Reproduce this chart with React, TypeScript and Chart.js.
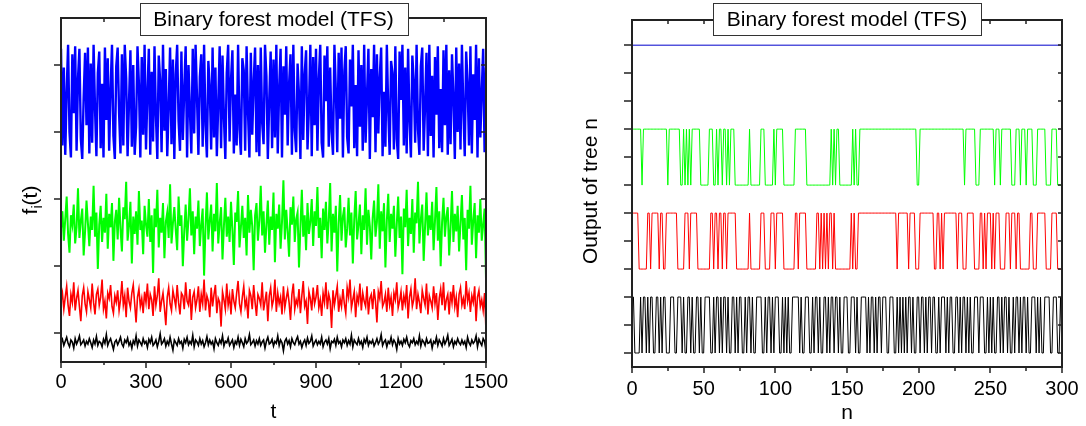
import React, { useEffect, useRef } from "react";
import { Chart, registerables } from "chart.js";
Chart.register(...registerables);

const FONT = '"Liberation Sans", Arial, Helvetica, sans-serif';
const TITLE = "Binary forest model (TFS)";

// ---------- Left panel: f_i(t), sampled every 5 time steps (t = 0..1500) ----------
const leftMajorX = [0, 300, 600, 900, 1200, 1500];
const leftMinorX = [150, 450, 750, 1050, 1350];
const leftYTicks = [50, 100, 150, 200, 250];

const blueF = [
  262,190,248,183,230,265,200,181,258,214,264,186,240,262,195,180,226,259,205,263,
  184,251,192,265,218,182,244,260,188,236,181,263,209,255,186,232,265,197,180,249,
  263,214,184,258,190,265,240,182,222,261,189,250,183,204,264,236,181,256,198,265,
  187,229,262,183,245,193,264,212,180,257,238,185,265,201,247,182,219,263,191,254,
  180,243,265,208,186,260,194,232,264,181,250,216,184,262,199,265,226,183,241,258,
  189,265,205,181,253,234,187,263,196,248,182,221,264,188,257,211,180,244,265,193,
  239,261,184,228,190,265,202,183,255,246,186,264,215,181,259,198,237,263,185,250,
  182,263,207,191,265,242,180,224,260,188,254,196,265,184,233,262,181,249,213,264,
  190,236,258,183,265,201,185,251,228,180,264,194,243,261,187,217,265,182,256,205,
  262,186,240,265,192,181,257,223,264,189,248,200,183,265,231,185,259,210,263,181,
  245,264,196,184,254,219,265,188,235,182,261,204,250,186,265,192,227,262,180,247,
  211,265,185,258,199,241,263,182,230,189,265,216,183,253,244,187,264,195,180,260,
  224,265,190,248,184,262,208,181,257,238,192,265,202,183,249,263,186,220,259,182,
  265,197,242,181,256,213,264,188,232,185,261,205,265,183,246,191,258,226,180,263,
  200,251,187,265,218,182,260,236,190,264,184,243,209,265,181,255,196,230,262,185,
  248,
];
const greenF = [
  128,141,119,135,152,124,110,138,131,146,117,129,158,121,134,143,108,126,149,132,
  115,137,127,160,122,140,98,131,145,118,136,125,154,113,139,129,147,104,133,142,
  120,151,128,111,144,135,163,119,130,148,102,137,124,141,116,156,127,134,109,145,
  131,122,150,118,138,95,143,129,157,114,136,125,147,106,133,140,121,161,117,132,
  144,127,112,152,130,138,100,126,146,119,135,158,123,141,109,137,128,149,115,131,
  143,93,129,155,120,134,146,111,139,126,162,117,132,144,105,130,151,122,137,118,
  148,127,101,140,133,156,114,129,145,121,136,108,153,125,142,130,97,138,147,119,
  134,160,123,141,110,131,149,116,137,127,155,103,139,128,146,113,133,164,120,142,
  126,107,144,131,152,118,135,140,99,129,157,122,138,112,147,124,133,150,115,141,
  130,159,121,136,106,143,127,148,117,134,162,111,139,125,145,96,132,153,119,137,
  144,114,128,151,123,140,102,135,156,120,131,146,109,138,127,158,116,142,130,105,
  136,149,122,133,161,113,141,126,147,99,134,154,118,139,128,145,107,131,152,121,
  137,94,143,129,157,115,136,124,150,110,140,132,163,117,135,146,104,130,155,123,
  138,127,148,112,134,159,119,141,100,133,151,122,137,144,108,129,156,118,139,126,
  145,111,132,153,120,136,97,142,128,160,116,134,147,106,138,125,150,119,131,143,
  91,
];
const redF = [
  74,80,68,77,85,71,63,79,73,88,67,76,82,70,59,78,84,72,66,81,
  75,69,87,73,64,79,83,71,77,90,68,74,61,80,76,86,70,65,78,73,
  82,67,75,89,71,78,62,84,74,69,80,86,72,58,77,83,70,76,65,81,
  73,87,68,79,75,63,85,71,78,91,66,74,80,69,56,77,84,72,67,82,
  76,70,86,73,64,80,78,68,88,74,71,83,60,77,81,69,75,85,66,79,
  72,90,67,78,74,62,84,70,79,86,65,76,73,55,81,75,68,87,71,78,
  64,83,74,69,80,89,72,66,77,85,70,75,61,82,78,68,86,73,63,79,
  76,71,88,67,74,81,59,78,84,70,75,90,66,80,72,77,64,85,69,76,
  82,73,60,79,87,68,75,71,83,65,78,89,70,74,57,81,76,67,84,72,
  77,86,69,75,63,80,73,88,68,79,74,54,82,71,78,85,66,76,70,83,
  72,65,84,77,90,69,75,81,62,78,73,87,67,80,74,70,85,64,76,79,
  68,83,74,58,81,76,89,70,73,79,66,84,71,77,63,80,75,88,69,74,
  81,67,78,72,86,61,77,83,70,75,91,68,79,73,65,82,76,71,87,64,
  78,74,69,85,72,80,60,76,83,71,88,67,75,79,64,81,73,86,70,77,
  62,79,84,71,76,68,89,74,80,66,78,73,85,59,77,82,70,75,67,80,
  52,
];
const blackF = [
  43,45.5,41,44,47,42.5,40,45,43.5,39,46,42,44.5,48,41.5,43,45,40.5,44,42,
  46,43,39.5,45,42,47.5,41,44,43,40,45.5,42.5,49,41,44,46,42,38,43.5,45,
  41.5,44,47,42,40,45,43,46.5,41,43.5,39,44.5,42,48,40.5,45,43,41,46,42.5,
  44,39.5,45.5,43,47,41,42.5,45,40,44,49.5,42,43.5,46,40.5,44,41.5,47,42,37.5,
  45,43,41,46,42.5,44,39,45.5,43,47,41.5,44,42,48.5,40,45,43.5,41,46,42,
  44.5,40,43,47.5,41.5,45,42,44,38.5,46,43,41,45,42.5,48,40.5,44,43,46.5,41,
  43,45,39.5,44,42,47,41,45.5,43,40,46,42.5,44,49,41.5,43,45,40.5,44.5,42,
  46,41,43.5,45,39,44,47,42,43,45.5,40.5,44,42.5,48,41,45,43,37,44,46,
  42,44.5,40,46,43,41.5,45,47.5,42,44,39.5,43,45,41,46.5,42.5,44,48,40.5,43,
  45,41.5,44,42,47,40,43.5,45,42,46,38.5,44,43,45.5,41,47,42.5,44,40,45,
  43,46,41,44.5,42,48.5,40,45,43,41.5,46,42,44,39.5,45.5,43,47,41,44,42.5,
  45,40.5,43,46,42,44,49,41,43.5,45,40,44,42.5,47,41.5,45,43,38,46,42,
  44,41,45.5,43,47,42,40,44.5,43,46,41.5,44,42,48,40.5,45,43.5,41,46,42.5,
  43,45,39,44,42.5,47,41,45,43,40.5,46,42,44.5,48.5,41,43,45.5,40,44,42,
  46,43,41.5,45,42,44,39.5,47,43,41,45,42.5,44,48,40,45.5,43,41,46,44,
  37,
];
const T_STEP = 5;

// ---------- Right panel: output of tree n (n = 0..300), binary ----------
const rightMajorX = [0, 50, 100, 150, 200, 250, 300];
const rightMinorX = [25, 75, 125, 175, 225, 275];
const rightYTicks = [0, 1, 2, 3, 4, 5, 6, 7, 8, 9, 10, 11];

const blueLevel = 11;
const greenLow = 6, greenHigh = 8;
const redLow = 3, redHigh = 5;
const blackLow = 0, blackHigh = 2;

const greenBits =
  "1111111011 1111111111 1111101111 1111001010 1011111100 0000111001 0110110101 1100000000 0010000000 1110000001 " +
  "0111110000 0000111111 1100000000 0000000001 0101100000 0000101001 1111111111 1111111111 1111111111 1111111110 " +
  "0111111111 1111111111 1111111111 1101111111 0001111111 1110111011 1111100011 1011101111 0001111110 0001111000 0";
const redBits =
  "1111100000 0110111110 1100111111 1100000111 0111110000 0000011011 0110110111 1110000000 0010000000 1110000111 " +
  "0111110000 0000110111 1100000001 1010101011 0100000000 0001010011 1111111111 1111111111 1111101111 1110111100 " +
  "0111111111 1001101011 1111111011 1000111110 0001101011 1010111000 0111011101 1000000011 0001111110 0001111000 0";
const blackBits =
  "1100001011 0101100110 1011000111 0011101001 1010011010 0111100101 1010110100 1101011001 0110100111 1001011010 " +
  "1110010101 0011111010 0111001011 0100110101 1011010011 1001110100 1111010110 1011011100 1110010101 0101101001 " +
  "1011010110 1100101110 1011001101 0110101001 1101110010 1010011010 1101001011 0101101001 1101010011 1100111001 0";

const parseBits = (s: string) => s.replace(/\s/g, "").split("").map(Number);

type FrameCfg = {
  id: string;
  majorX: number[];
  minorX: number[];
  yTicks: number[];
  botMajor: number;
  botMinor: number;
  topMajor: number;
  topMinor: number;
  yOut: number;
  yIn: number;
  xTitle: string;
  xTitleY: number;
  yTitleParts: { text: string; size: number; dy: number }[];
  yTitleX: number;
  yTitleY: number;
};

function framePlugin(cfg: FrameCfg) {
  return {
    id: cfg.id,
    afterDraw(chart: any) {
      const { ctx, chartArea: a, scales } = chart;
      const xs = scales.x;
      const ys = scales.y;
      ctx.save();
      ctx.strokeStyle = "#222";
      ctx.lineWidth = 1.5;
      ctx.beginPath();
      for (const v of cfg.majorX) {
        const px = Math.round(xs.getPixelForValue(v));
        ctx.moveTo(px, a.bottom);
        ctx.lineTo(px, a.bottom + cfg.botMajor);
        ctx.moveTo(px, a.top);
        ctx.lineTo(px, a.top + cfg.topMajor);
      }
      for (const v of cfg.minorX) {
        const px = Math.round(xs.getPixelForValue(v));
        ctx.moveTo(px, a.bottom);
        ctx.lineTo(px, a.bottom + cfg.botMinor);
        ctx.moveTo(px, a.top);
        ctx.lineTo(px, a.top + cfg.topMinor);
      }
      for (const v of cfg.yTicks) {
        const py = Math.round(ys.getPixelForValue(v));
        ctx.moveTo(a.left, py);
        ctx.lineTo(a.left - cfg.yOut, py);
        ctx.moveTo(a.right, py);
        ctx.lineTo(a.right - cfg.yIn, py);
      }
      ctx.stroke();
      ctx.lineWidth = 2;
      ctx.strokeRect(a.left, a.top, a.right - a.left, a.bottom - a.top);

      // title box
      ctx.font = `21px ${FONT}`;
      const tw = ctx.measureText(TITLE).width;
      const cx = (a.left + a.right) / 2;
      const bw = Math.round(tw + 28);
      const bh = 32;
      const bx = Math.round(cx - bw / 2);
      const by = 3;
      ctx.fillStyle = "#fff";
      ctx.fillRect(bx, by, bw, bh);
      ctx.lineWidth = 1;
      ctx.strokeStyle = "#333";
      ctx.strokeRect(bx + 0.5, by + 0.5, bw, bh);
      ctx.fillStyle = "#000";
      ctx.textAlign = "center";
      ctx.textBaseline = "middle";
      ctx.fillText(TITLE, cx, by + bh / 2 + 1);

      // x title
      ctx.fillText(cfg.xTitle, cx, cfg.xTitleY);

      // y title (rotated)
      ctx.translate(cfg.yTitleX, cfg.yTitleY);
      ctx.rotate(-Math.PI / 2);
      ctx.textAlign = "left";
      ctx.textBaseline = "alphabetic";
      let total = 0;
      for (const p of cfg.yTitleParts) {
        ctx.font = `${p.size}px ${FONT}`;
        total += ctx.measureText(p.text).width;
      }
      let x = -total / 2;
      for (const p of cfg.yTitleParts) {
        ctx.font = `${p.size}px ${FONT}`;
        ctx.fillText(p.text, x, 7 + p.dy);
        x += ctx.measureText(p.text).width;
      }
      ctx.restore();
    },
  };
}

const tickFont = { family: FONT, size: 20 };
const plainLabel = (v: any) => String(v);

export default function App() {
  const leftRef = useRef<HTMLCanvasElement>(null);
  const rightRef = useRef<HTMLCanvasElement>(null);

  useEffect(() => {
    const toPts = (arr: number[]) => arr.map((v, i) => ({ x: i * T_STEP, y: v }));
    const left = new Chart(leftRef.current!, {
      type: "line",
      data: {
        datasets: [
          { data: toPts(blueF), borderColor: "#0000ff", borderWidth: 2.4 },
          { data: toPts(greenF), borderColor: "#00ff00", borderWidth: 2 },
          { data: toPts(redF), borderColor: "#ff0000", borderWidth: 1.6 },
          { data: toPts(blackF), borderColor: "#000000", borderWidth: 1.6 },
        ].map((d) => ({ ...d, pointRadius: 0, tension: 0, fill: false, borderJoinStyle: "miter" })),
      },
      options: {
        responsive: false,
        animation: false,
        events: [],
        layout: { padding: { top: 18, right: 57, left: 0, bottom: 0 } },
        plugins: { legend: { display: false }, tooltip: { enabled: false } },
        scales: {
          x: {
            type: "linear",
            min: 0,
            max: 1500,
            ticks: { stepSize: 300, font: tickFont, color: "#000", padding: 8, maxRotation: 0, minRotation: 0, autoSkip: false, callback: plainLabel },
            grid: { display: false, drawTicks: false },
            border: { display: false },
            afterFit: (s: any) => { s.height = 64; s.paddingLeft = 0; s.paddingRight = 0; },
          },
          y: {
            type: "linear",
            min: 28.6,
            max: 285,
            ticks: { display: false },
            grid: { display: false, drawTicks: false },
            border: { display: false },
            afterFit: (s: any) => { s.width = 61; s.paddingTop = 0; s.paddingBottom = 0; },
          },
        },
      },
      plugins: [
        framePlugin({
          id: "frameL",
          majorX: leftMajorX,
          minorX: leftMinorX,
          yTicks: leftYTicks,
          botMajor: 6,
          botMinor: 3,
          topMajor: 6,
          topMinor: 4,
          yOut: 7,
          yIn: 5,
          xTitle: "t",
          xTitleY: 412,
          yTitleParts: [
            { text: "f", size: 21, dy: 0 },
            { text: "i", size: 14, dy: 5 },
            { text: "(t)", size: 21, dy: 0 },
          ],
          yTitleX: 30,
          yTitleY: 200,
        }),
      ],
    } as any);

    const g = parseBits(greenBits);
    const r = parseBits(redBits);
    const b = parseBits(blackBits);
    const lvl = (bits: number[], lo: number, hi: number) =>
      bits.map((bit, i) => ({ x: i, y: bit ? hi : lo }));
    const right = new Chart(rightRef.current!, {
      type: "line",
      data: {
        datasets: [
          { data: [{ x: 0, y: blueLevel }, { x: 300, y: blueLevel }], borderColor: "#0000cc" },
          { data: lvl(g, greenLow, greenHigh), borderColor: "#00ff00" },
          { data: lvl(r, redLow, redHigh), borderColor: "#ff0000" },
          { data: lvl(b, blackLow, blackHigh), borderColor: "#000000" },
        ].map((d) => ({ ...d, borderWidth: 1, pointRadius: 0, tension: 0, fill: false })),
      },
      options: {
        responsive: false,
        animation: false,
        events: [],
        layout: { padding: { top: 20, right: 24, left: 0, bottom: 0 } },
        plugins: { legend: { display: false }, tooltip: { enabled: false } },
        scales: {
          x: {
            type: "linear",
            min: 0,
            max: 300,
            ticks: { stepSize: 50, font: tickFont, color: "#000", padding: 10, maxRotation: 0, minRotation: 0, autoSkip: false, callback: plainLabel },
            grid: { display: false, drawTicks: false },
            border: { display: false },
            afterFit: (s: any) => { s.height = 59; s.paddingLeft = 0; s.paddingRight = 0; },
          },
          y: {
            type: "linear",
            min: -0.5,
            max: 11.9,
            ticks: { display: false },
            grid: { display: false, drawTicks: false },
            border: { display: false },
            afterFit: (s: any) => { s.width = 89; s.paddingTop = 0; s.paddingBottom = 0; },
          },
        },
      },
      plugins: [
        framePlugin({
          id: "frameR",
          majorX: rightMajorX,
          minorX: rightMinorX,
          yTicks: rightYTicks,
          botMajor: 6,
          botMinor: 4,
          topMajor: 4,
          topMinor: 4,
          yOut: 8,
          yIn: 4,
          xTitle: "n",
          xTitleY: 413,
          yTitleParts: [{ text: "Output of tree n", size: 21, dy: 0 }],
          yTitleX: 47,
          yTitleY: 191,
        }),
      ],
    } as any);

    return () => {
      left.destroy();
      right.destroy();
    };
  }, []);

  return (
    <div style={{ position: "absolute", left: 0, top: 0, width: 1086, height: 426, background: "#fff" }}>
      <canvas ref={leftRef} width={543} height={426} style={{ position: "absolute", left: 0, top: 0, width: 543, height: 426 }} />
      <canvas ref={rightRef} width={543} height={426} style={{ position: "absolute", left: 543, top: 0, width: 543, height: 426 }} />
    </div>
  );
}
